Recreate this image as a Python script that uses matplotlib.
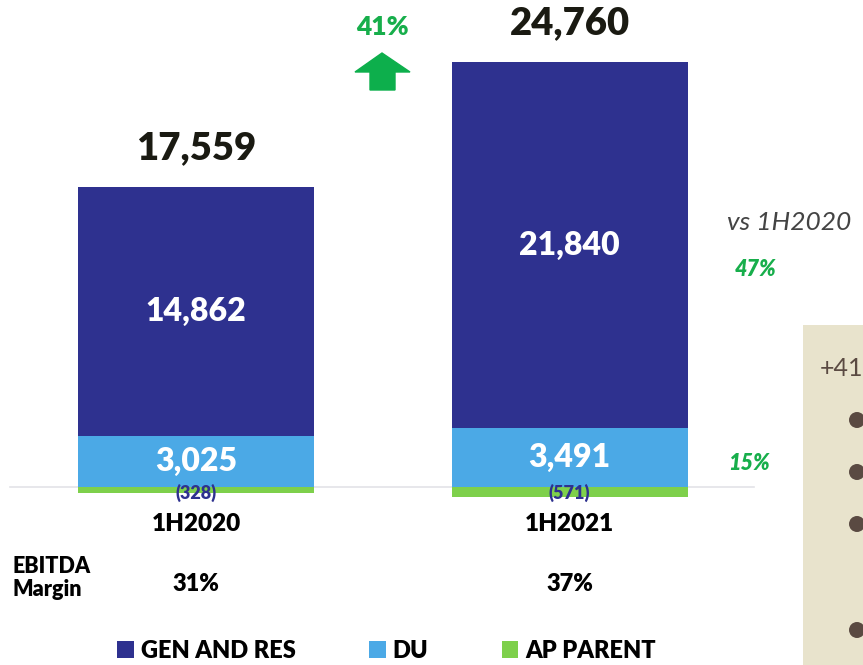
import numpy as np
import matplotlib
matplotlib.use('Agg')
import matplotlib.pyplot as plt
from matplotlib.patches import Rectangle, Polygon, Circle

# data
periods = ['1H2020', '1H2021']
gen_res = [14862, 21840]
du = [3025, 3491]
ap_parent = [-328, -571]
totals = [17559, 24760]
ebitda_margin = ['31%', '37%']
growth_total = '41%'
growth_gen = '47%'
growth_du = '15%'
series_names = ['GEN AND RES', 'DU', 'AP PARENT']

NAVY = '#2E318F'
BLUE = '#4BA9E6'
LGREEN = '#7ED04B'
GREEN = '#17AE4B'
DARK = '#1a1a12'
BOLD = 'heavy'

plt.rcParams['font.family'] = ['Lato', 'DejaVu Sans']

W, H = 863, 665
fig = plt.figure(figsize=(W / 100, H / 100), dpi=100)
ax = fig.add_axes([0, 0, 1, 1])
ax.axis('off')

# pixel mapping: baseline at y=487 from top, 0.01677 px per unit
k = 0.01677
base_px = 487
ax.set_ylim(-(H - base_px) / k, base_px / k)
cx0, step = 196, 373.5
ax.set_xlim(-cx0 / step, (W - cx0) / step)

x = np.arange(len(periods))
wd = 236 / step
gen_res = np.array(gen_res); du = np.array(du); ap_parent = np.array(ap_parent)

# baseline
ax.plot([-(cx0 - 10) / step, (754 - cx0) / step], [0, 0], color='#e3e3e8', lw=1.2, zorder=0)

b_du = ax.bar(x, du, wd, color=BLUE, zorder=2)
b_gen = ax.bar(x, gen_res, wd, bottom=du, color=NAVY, zorder=2)
b_ap = ax.bar(x, ap_parent, wd, color=LGREEN, zorder=2)

for i in range(len(x)):
    ax.text(x[i], du[i] + gen_res[i] / 2, f'{gen_res[i]:,}', ha='center', va='center',
            color='white', fontsize=23, fontweight=BOLD)
    ax.text(x[i], du[i] / 2, f'{du[i]:,}', ha='center', va='center',
            color='white', fontsize=23, fontweight=BOLD)
    ax.annotate(f'({-ap_parent[i]:,})', xy=(x[i], 0), xytext=(0, -4), textcoords='offset points',
                ha='center', va='center', color=NAVY, fontsize=13, fontweight=BOLD, zorder=3)
    ax.annotate(f'{totals[i]:,}', xy=(x[i], du[i] + gen_res[i]), xytext=(0, 28),
                textcoords='offset points', ha='center', va='center', color=DARK,
                fontsize=27.5, fontweight=BOLD)
    ax.annotate(periods[i], xy=(x[i], 0), xytext=(0, -(524 - base_px) * 0.72),
                textcoords='offset points', ha='center', va='center', color='black',
                fontsize=17.5, fontweight=BOLD)
    ax.annotate(ebitda_margin[i], xy=(x[i], 0), xytext=(0, -(584 - base_px) * 0.72),
                textcoords='offset points', ha='center', va='center', color='black',
                fontsize=17, fontweight=BOLD)

# EBITDA Margin label
fig.text(12 / W, 1 - 578 / H, 'EBITDA\nMargin', ha='left', va='center', fontsize=15.5,
         fontweight=BOLD, color='black', linespacing=1.15)

# growth arrow and label
fig.text(382 / W, 1 - 27 / H, growth_total, ha='center', va='center', color=GREEN,
         fontsize=19, fontweight=BOLD)
arrow = Polygon([(355, 72), (382, 53), (410, 72), (395, 72), (395, 90), (370, 90), (370, 72)],
                closed=True, color='#0DAF4C', transform=None)
arrow.set_xy([(px, H - py) for px, py in arrow.get_xy()])
fig.patches.append(arrow)

# right-side comparison labels
fig.text(727 / W, 1 - 222 / H, 'vs 1H2020', ha='left', va='center', color='#444444',
         fontsize=19, style='italic')
fig.text(735 / W, 1 - 270 / H, growth_gen, ha='left', va='center', color=GREEN,
         fontsize=15.5, style='italic', fontweight=BOLD)
fig.text(728 / W, 1 - 463 / H, growth_du, ha='left', va='center', color=GREEN,
         fontsize=15.5, style='italic', fontweight=BOLD)

# beige side box (cut off at the edge)
fig.patches.append(Rectangle((803 / W, 0), 80 / W, (H - 325) / H, transform=fig.transFigure,
                             facecolor='#E8E3CC', edgecolor='none', zorder=0))
fig.text(820 / W, 1 - 368 / H, '+41', ha='left', va='center', color='#5A4A42', fontsize=18)
for by in [420, 472, 524, 630]:
    fig.patches.append(Circle((857, H - by), 8, transform=None, facecolor='#5A4A42',
                              edgecolor='none'))

# legend
leg = fig.legend([b_gen, b_du, b_ap], series_names, loc='center left',
                 bbox_to_anchor=(108 / W, 1 - 651 / H), ncol=3, frameon=False,
                 fontsize=17, handlelength=0.7, handleheight=0.7, handletextpad=0.3,
                 columnspacing=3.1, borderaxespad=0)
for t in leg.get_texts():
    t.set_fontweight(BOLD)
    t.set_color('black')

fig.savefig('out.png', dpi=100)
